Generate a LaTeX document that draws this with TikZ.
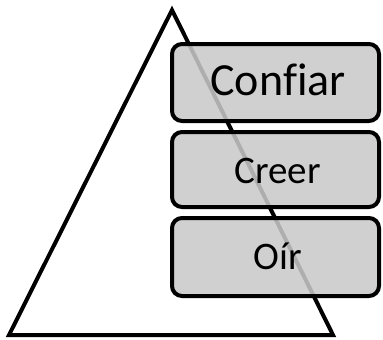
\documentclass[tikz,border=0pt]{standalone}
\usepackage{fontspec}
\setmainfont{Carlito}[Ligatures=NoCommon]
\begin{document}
\begin{tikzpicture}[x=1pt,y=-1pt,
  tri/.style={draw=black,line width=4pt,line join=miter},
  level/.style={draw=black,line width=4pt,fill=black!21,fill opacity=0.87,rounded corners=10pt},
  lbl/.style={text=black,inner sep=0pt,anchor=base}]
\useasboundingbox (0,0) rectangle (383,340);
\coordinate (apex) at (172,10);
\coordinate (bl) at (9,335);
\coordinate (br) at (333,335);
\draw[tri] (apex) -- (br) -- (bl) -- cycle;
\draw[level] (172,44) rectangle (379,121);
\draw[level] (172,132) rectangle (379,207);
\draw[level] (172,218) rectangle (379,296);
\node[lbl,font=\fontsize{46}{50}\selectfont] (c1) at (278,95) {Confiar};
\node[lbl,font=\fontsize{39}{44}\selectfont] (c2) at (277.5,183) {Creer};
\node[lbl,font=\fontsize{39}{44}\selectfont] (c3) at (277.5,269) {Oír};
\end{tikzpicture}
\end{document}
